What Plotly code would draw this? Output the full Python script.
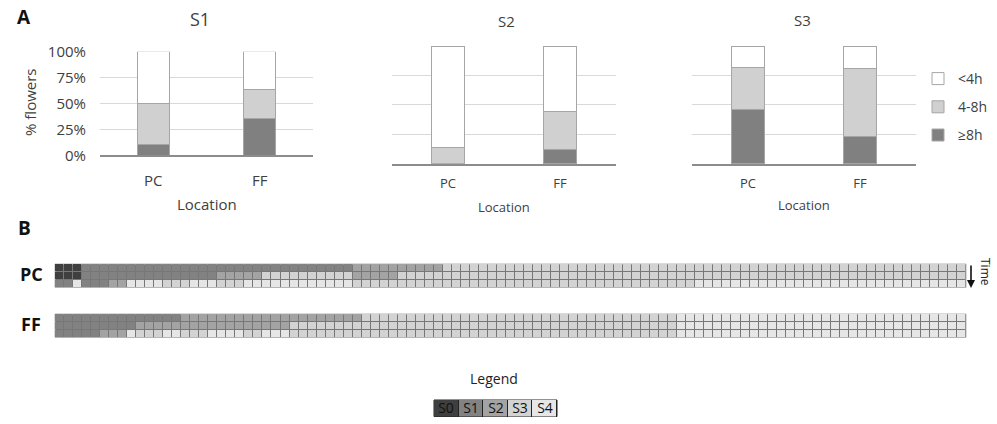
import plotly.graph_objects as go

W, H = 997, 424

# ---------------- data ----------------
locations = ["PC", "FF"]
duration_names = ["≥8h", "4-8h", "<4h"]

s1_ge8h = [10, 36]
s1_4to8h = [40, 28]
s1_lt4h = [50, 36]

s2_ge8h = [0, 12]
s2_4to8h = [14, 32]
s2_lt4h = [86, 56]

s3_ge8h = [46, 23]
s3_4to8h = [36, 58]
s3_lt4h = [18, 19]

pct_ticks = [0, 25, 50, 75, 100]
pct_labels = ["0%", "25%", "50%", "75%", "100%"]

stage_labels = ["S0", "S1", "S2", "S3", "S4"]

# stage code per time step (rows = successive observations), groups of 10 columns
pc_rows = [
    "0001111111 1111111111 1111111111 1112222222 2223333333 3333333333 3333333333 3333333333 3333333333 3333333333 3",
    "0001111111 1111111122 2223333333 3332222233 3333333333 3333333333 3333333333 3333333333 3333333333 3333333333 3",
    "1141112244 4433344433 3444444444 4443333333 3333333333 3333333333 3333333333 3444444444 4444444444 4444444444 4",
]
ff_rows = [
    "1111111111 1111222222 2222222222 2222333333 3333333333 3333333333 3333333334 4444444444 4444444444 4444444444 4",
    "1111111112 2222222222 2222223333 3333333333 3333333333 3333333333 3333333334 4444444444 4444444444 4444444444 4",
    "1111122243 3344333444 4334443333 3333333333 3333333333 3333333333 3333333334 4444444444 4444444444 4444444444 4",
]

# ---------------- styles ----------------
FONT = "Open Sans"
TXT = "#404040"
dur_colors = {"≥8h": "#808080", "4-8h": "#d0d0d0", "<4h": "#ffffff"}
legend_rank = {"<4h": 1, "4-8h": 2, "≥8h": 3}
stage_colors = ["#3f3f3f", "#828282", "#a3a3a3", "#d3d3d3", "#e6e6e6"]


def px(x):
    return x / W


def py(y):
    return 1 - y / H


def parse(rows):
    return [[int(c) for c in r.replace(" ", "")] for r in rows]


pc_z = parse(pc_rows)
ff_z = parse(ff_rows)
ncols = len(pc_z[0])

fig = go.Figure()

panels = [
    ("x", "y", [s1_ge8h, s1_4to8h, s1_lt4h], False),
    ("x2", "y2", [s2_ge8h, s2_4to8h, s2_lt4h], False),
    ("x3", "y3", [s3_ge8h, s3_4to8h, s3_lt4h], True),
]
for xa, ya, series, show in panels:
    for name, vals in zip(duration_names, series):
        fig.add_trace(go.Bar(
            x=locations, y=vals, name=name, xaxis=xa, yaxis=ya,
            legendgroup=name, legendrank=legend_rank[name], showlegend=show,
            marker=dict(color=dur_colors[name], line=dict(color="#a6a6a6", width=1)),
        ))

# stage colour scale (discrete)
n = len(stage_colors)
cs = []
for i, c in enumerate(stage_colors):
    lo = max(0, (i - 0.5) / (n - 1))
    hi = min(1, (i + 0.5) / (n - 1))
    cs += [[lo, c], [hi, c]]

for xa, ya, z in [("x4", "y4", pc_z), ("x5", "y5", ff_z)]:
    fig.add_trace(go.Heatmap(
        z=z, x=list(range(ncols)), y=list(range(len(z))), xaxis=xa, yaxis=ya,
        colorscale=cs, zmin=0, zmax=n - 1, showscale=False, xgap=1, ygap=1,
        hoverinfo="skip", showlegend=False,
    ))

fig.add_trace(go.Heatmap(
    z=[list(range(n))], x=stage_labels, y=[0], xaxis="x6", yaxis="y6",
    colorscale=cs, zmin=0, zmax=n - 1, showscale=False, xgap=1, ygap=0,
    text=[stage_labels], texttemplate="%{text}",
    textfont=dict(family=FONT, size=14, color="#111111"), hoverinfo="skip",
    showlegend=False,
))

grid = "#d9d9d9"
base_x = dict(type="category", showline=True, linecolor="#8c8c8c", linewidth=1.5,
              ticks="", showgrid=False, zeroline=False, fixedrange=True)
base_y = dict(range=[0, 100], tickvals=pct_ticks, showgrid=True, gridcolor=grid,
              gridwidth=1, zeroline=False, showline=False, ticks="", fixedrange=True)
hidden = dict(showgrid=False, zeroline=False, showticklabels=False, showline=False,
              ticks="", fixedrange=True)

fig.update_layout(
    width=W, height=H, margin=dict(l=0, r=0, t=0, b=0),
    paper_bgcolor="white", plot_bgcolor="white", template="none",
    barmode="stack", bargap=0.7,
    font=dict(family=FONT, color=TXT, size=14),
    showlegend=True,
    legend=dict(x=px(918), y=py(63), xanchor="left", yanchor="top",
                font=dict(family=FONT, size=14, color=TXT),
                traceorder="grouped", tracegroupgap=7,
                bgcolor="rgba(0,0,0,0)"),
    xaxis=dict(base_x, domain=[px(100), px(313)], anchor="y",
               tickfont=dict(size=15), ticklabelstandoff=11),
    yaxis=dict(base_y, domain=[py(155.3), py(51.7)], anchor="x",
               ticktext=pct_labels, tickfont=dict(size=15), ticklabelstandoff=13),
    xaxis2=dict(base_x, domain=[px(392), px(616)], anchor="y2",
                tickfont=dict(size=13), ticklabelstandoff=7),
    yaxis2=dict(base_y, domain=[py(163.7), py(46)], anchor="x2", showticklabels=False),
    xaxis3=dict(base_x, domain=[px(692), px(916)], anchor="y3",
                tickfont=dict(size=13), ticklabelstandoff=7),
    yaxis3=dict(base_y, domain=[py(163.7), py(46)], anchor="x3", showticklabels=False),
    xaxis4=dict(hidden, domain=[px(55), px(966)], anchor="y4", range=[-0.5, ncols - 0.5]),
    yaxis4=dict(hidden, domain=[py(287.5), py(264)], anchor="x4", autorange="reversed"),
    xaxis5=dict(hidden, domain=[px(55), px(966)], anchor="y5", range=[-0.5, ncols - 0.5]),
    yaxis5=dict(hidden, domain=[py(337.5), py(314)], anchor="x5", autorange="reversed"),
    xaxis6=dict(hidden, domain=[px(434), px(557)], anchor="y6"),
    yaxis6=dict(hidden, domain=[py(416.5), py(400)], anchor="x6"),
)

# grid-line backgrounds under the heatmaps
for k, fill, edge in [("4", "#777777", "#b5b5b5"), ("5", "#777777", "#b5b5b5"), ("6", "#222222", "#222222")]:
    fig.add_shape(type="rect", xref=f"x{k} domain", yref=f"y{k} domain",
                  x0=0, x1=1, y0=0, y1=1, fillcolor=fill,
                  line=dict(color=edge, width=1), layer="below")

ann = []


def text(x, y, s, size, bold=False, angle=0, color=TXT, xanchor="center"):
    ann.append(dict(x=px(x), y=py(y), xref="paper", yref="paper", text=f"<b>{s}</b>" if bold else s,
                    showarrow=False, textangle=angle, xanchor=xanchor, yanchor="middle",
                    font=dict(family=FONT, size=size, color=color)))


text(24, 17, "A", 19, bold=True, color="#111111")
text(24, 228, "B", 19, bold=True, color="#111111")
text(200, 19, "S1", 18)
text(506, 21, "S2", 15)
text(802, 20, "S3", 15)
text(207, 204, "Location", 15)
text(504, 207, "Location", 13)
text(804, 205, "Location", 13)
text(30, 103, "% flowers", 15, angle=-90)
text(31, 274, "PC", 18, bold=True, color="#111111")
text(31, 324, "FF", 18, bold=True, color="#111111")
text(986, 272, "Time", 12, angle=90, color="#222222")
text(494, 378, "Legend", 14, color="#222222")

ann.append(dict(x=px(971), y=py(288), xref="paper", yref="paper", ax=0, ay=-24,
                axref="pixel", ayref="pixel", text="", showarrow=True,
                arrowhead=2, arrowsize=1, arrowwidth=1.6, arrowcolor="#111111"))

fig.update_layout(annotations=ann)

fig.write_html("out.html", config={"displayModeBar": False},
               post_script="document.body.style.margin='0';document.body.style.padding='0';")
